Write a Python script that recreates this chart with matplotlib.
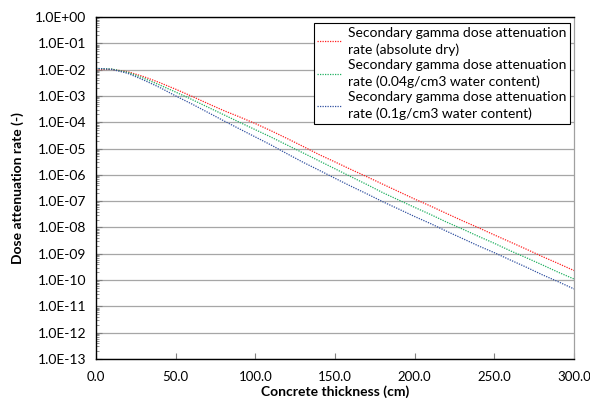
import matplotlib
matplotlib.use("Agg")
import matplotlib.pyplot as plt
from matplotlib.ticker import FuncFormatter, LogLocator, FixedLocator

plt.rcParams['font.family'] = ['Lato', 'DejaVu Sans']

thickness = [0, 10, 20, 30, 40, 50, 60, 70, 80, 90, 100, 110, 120, 130, 140, 150,
             160, 170, 180, 190, 200, 210, 220, 230, 240, 250, 260, 270, 280, 290, 300]

dry = [1.0e-2, 1.02e-2, 8.3e-3, 5.4e-3, 3.2e-3, 1.8e-3, 9.8e-4, 5.2e-4, 2.8e-4, 1.6e-4,
       8.9e-5, 4.7e-5, 2.4e-5, 1.2e-5, 5.9e-6, 3.1e-6, 1.6e-6, 8.5e-7, 4.4e-7, 2.3e-7,
       1.2e-7, 6.5e-8, 3.4e-8, 1.8e-8, 9.8e-9, 5.2e-9, 2.8e-9, 1.5e-9, 7.9e-10, 4.3e-10, 2.3e-10]

water004 = [1.1e-2, 1.05e-2, 7.9e-3, 4.7e-3, 2.6e-3, 1.4e-3, 7.4e-4, 3.8e-4, 1.95e-4, 1.0e-4,
            5.2e-5, 2.7e-5, 1.35e-5, 6.8e-6, 3.4e-6, 1.7e-6, 8.5e-7, 4.3e-7, 2.1e-7, 1.1e-7,
            5.8e-8, 3.1e-8, 1.6e-8, 8.7e-9, 4.6e-9, 2.5e-9, 1.3e-9, 7.1e-10, 3.8e-10, 2.0e-10, 1.1e-10]

water01 = [1.12e-2, 1.02e-2, 7.2e-3, 4.0e-3, 2.1e-3, 1.0e-3, 5.0e-4, 2.4e-4, 1.15e-4, 5.6e-5,
           2.75e-5, 1.35e-5, 6.3e-6, 3.0e-6, 1.5e-6, 7.4e-7, 3.7e-7, 1.9e-7, 9.5e-8, 5.0e-8,
           2.6e-8, 1.4e-8, 7.2e-9, 3.8e-9, 2.0e-9, 1.1e-9, 5.8e-10, 3.1e-10, 1.6e-10, 8.7e-11, 4.6e-11]

labels = ["Secondary gamma dose attenuation\nrate (absolute dry)",
          "Secondary gamma dose attenuation\nrate (0.04g/cm3 water content)",
          "Secondary gamma dose attenuation\nrate (0.1g/cm3 water content)"]
colors = ["#FF2020", "#20B060", "#3050A0"]

x_ticks = [0, 50, 100, 150, 200, 250, 300]

fig = plt.figure(figsize=(5.9, 4.05), dpi=100)
ax = fig.add_axes([0.1627, 0.1136, 0.8102, 0.8444])

for ys, lab, c in zip([dry, water004, water01], labels, colors):
    ax.plot(thickness, ys, linestyle=(0, (1, 1)), linewidth=0.9, color=c, label=lab)

ax.set_yscale('log')
ax.set_ylim(1e-13, 1.0)
ax.set_xlim(0, 300)
ax.yaxis.set_major_locator(LogLocator(base=10, numticks=20))
ax.yaxis.set_minor_locator(LogLocator(base=10, subs=range(2, 10), numticks=200))
ax.yaxis.set_major_formatter(FuncFormatter(lambda v, p: f"{v:.1E}"))
ax.xaxis.set_major_locator(FixedLocator(x_ticks))
ax.xaxis.set_major_formatter(FuncFormatter(lambda v, p: f"{v:.1f}"))

ax.grid(axis='y', which='major', color='#A6A6A6', linewidth=0.9)
ax.set_axisbelow(True)

ax.tick_params(axis='y', which='major', direction='in', length=4, width=0.8,
               color='#808080', labelsize=10, pad=7)
ax.tick_params(axis='y', which='minor', direction='in', length=2.5, width=0.6, color='#808080')
ax.tick_params(axis='x', which='major', direction='in', length=4, width=0.8,
               color='#808080', labelsize=9.5, pad=9)

for s in ['left', 'bottom', 'top']:
    ax.spines[s].set_color('black')
    ax.spines[s].set_linewidth(1.0)
ax.spines['right'].set_color('#A0A0A0')
ax.spines['right'].set_linewidth(0.9)

ax.set_xlabel("Concrete thickness (cm)", fontsize=10, fontweight='bold', labelpad=1)
ax.set_ylabel("Dose attenuation rate (-)", fontsize=10, fontweight='bold', labelpad=8)

leg = ax.legend(loc='upper right', bbox_to_anchor=(0.997, 0.99), fontsize=10,
                frameon=True, fancybox=False, edgecolor='black', framealpha=1,
                handlelength=1.8, handletextpad=0.4, borderpad=0.25, labelspacing=0.2,
                borderaxespad=0.2)
for t in leg.get_texts():
    t.set_linespacing(1.45)
leg.get_frame().set_linewidth(0.8)

fig.savefig("out.png", dpi=100)
